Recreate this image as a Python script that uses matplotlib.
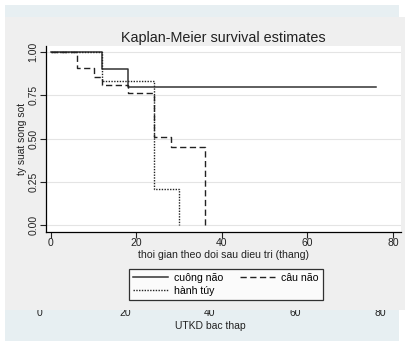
import matplotlib.pyplot as plt
from matplotlib.patches import Rectangle

plt.rcParams['font.family'] = ['Liberation Sans', 'DejaVu Sans']

# Kaplan-Meier step data (time in months, survival)
t_cuong = [0, 12, 18, 76]
s_cuong = [1.0, 0.9, 0.8, 0.8]

t_cau = [0, 6, 10, 12, 18, 24, 28, 36]
s_cau = [1.0, 0.905, 0.857, 0.81, 0.762, 0.508, 0.454, 0.0]

t_hanh = [0, 12, 24, 30]
s_hanh = [1.0, 0.833, 0.208, 0.0]

xticks = [0, 20, 40, 60, 80]
yticks = [0.0, 0.25, 0.5, 0.75, 1.0]
ylabels = ['0.00', '0.25', '0.50', '0.75', '1.00']

W, H = 406, 341
fig = plt.figure(figsize=(W / 100, H / 100), dpi=100)
fig.patch.set_facecolor('white')

def fx(px):
    return px / W

def fy(py):
    return 1 - py / H

blue = '#e7eff2'
grey = '#efefef'
# background strips from the underlying graph
fig.add_artist(Rectangle((fx(5), fy(17)), fx(394), 12 / H, transform=fig.transFigure,
                         facecolor=blue, edgecolor='none', zorder=0.1))
fig.add_artist(Rectangle((fx(5), 0), fx(394), fy(310), transform=fig.transFigure,
                         facecolor=blue, edgecolor='none', zorder=0.1))
# grey graph panel
fig.add_artist(Rectangle((fx(5), fy(310)), fx(400), (310 - 17) / H, transform=fig.transFigure,
                         facecolor=grey, edgecolor='none', zorder=1))

# hidden axis of the graph underneath (only its bottom shows)
ax2 = fig.add_axes([fx(40), fy(308), fx(340), 0.001])
ax2.set_zorder(0.5)
ax2.patch.set_alpha(0)
for sp in ax2.spines.values():
    sp.set_visible(False)
ax2.set_xlim(0, 80)
ax2.set_xticks(xticks)
ax2.set_yticks([])
ax2.tick_params(axis='x', length=0, labelsize=7.5, pad=0, colors='#222222')
ax2.set_xlabel('UTKD bac thap', fontsize=7.5, labelpad=2, color='#222222')

# main plot
ax = fig.add_axes([fx(46), fy(232), fx(401 - 46), (232 - 46) / H])
ax.set_zorder(2)
ax.set_facecolor('white')
ax.step(t_cuong, s_cuong, where='post', color='#333333', lw=1.1, label='cuông não')
ax.step(t_cau, s_cau, where='post', color='#222222', lw=1.0, ls=(0, (4.5, 2.5)), label='câu não')
ax.step(t_hanh, s_hanh, where='post', color='#222222', lw=1.0, ls=(0, (1, 1)), label='hành túy')

ax.set_xlim(-1.17, 81.9)
ax.set_ylim(-0.04, 1.035)
ax.set_xticks(xticks)
ax.set_yticks(yticks)
ax.set_yticklabels(ylabels, rotation=90, va='center')
ax.yaxis.grid(True, color='#e4e4e4', lw=0.8)
ax.set_axisbelow(True)
for side in ['top', 'right']:
    ax.spines[side].set_visible(False)
ax.spines['left'].set_linewidth(0.9)
ax.spines['bottom'].set_linewidth(0.9)
ax.tick_params(labelsize=7.5, length=4, width=0.8, pad=1.5, colors='#222222')
ax.tick_params(axis='x', pad=0.5)
ax.set_title('Kaplan-Meier survival estimates', fontsize=10.4, pad=3, color='#222222')
ax.set_xlabel('thoi gian theo doi sau dieu tri (thang)', fontsize=7.6, labelpad=1, color='#222222')
ax.set_ylabel('ty suat song sot', fontsize=7.4, labelpad=1, color='#222222')

h, l = ax.get_legend_handles_labels()
order = [0, 2, 1]
leg = fig.legend([h[i] for i in order], [l[i] for i in order], ncol=2,
                 loc='upper left', bbox_to_anchor=(fx(124), fy(264)),
                 fontsize=7.6, frameon=True, fancybox=False, handlelength=3.3,
                 handletextpad=0.6, columnspacing=1.6, borderpad=0.35, labelspacing=0.3)
leg.get_frame().set_edgecolor('black')
leg.get_frame().set_linewidth(0.9)
leg.set_zorder(3)

fig.savefig('out.png', dpi=100)
